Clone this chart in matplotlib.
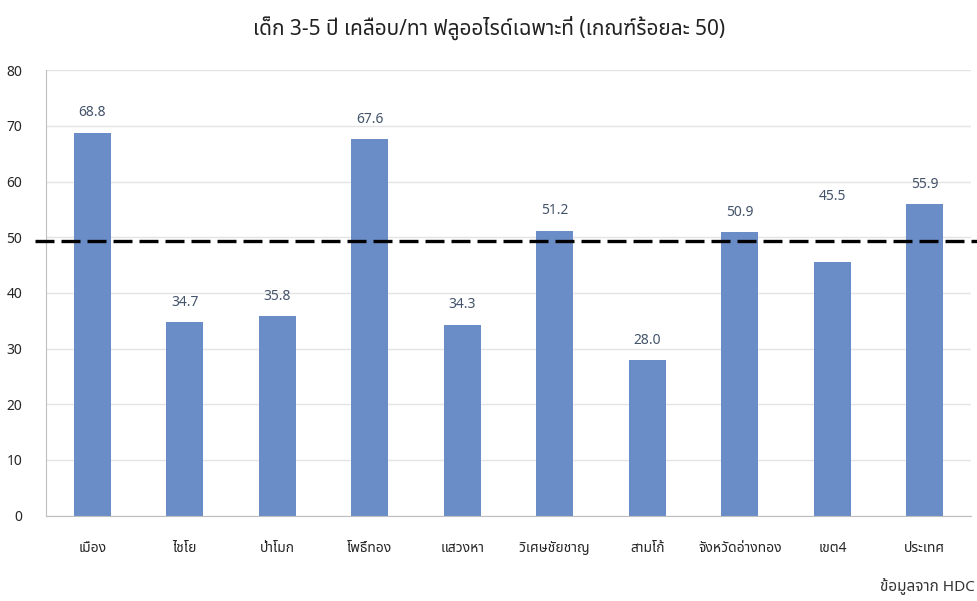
import matplotlib
matplotlib.use('Agg')
import matplotlib.pyplot as plt

plt.rcParams['font.family'] = ['Noto Sans Thai', 'DejaVu Sans']

categories = ['เมือง', 'ไชโย', 'ป่าโมก', 'โพธิ์ทอง', 'แสวงหา', 'วิเศษชัยชาญ',
              'สามโก้', 'จังหวัดอ่างทอง', 'เขต4', 'ประเทศ']
values = [68.8, 34.7, 35.8, 67.6, 34.3, 51.2, 28.0, 50.9, 45.5, 55.9]
target = 49.3
title = 'เด็ก 3-5 ปี เคลือบ/ทา ฟลูออไรด์เฉพาะที่ (เกณฑ์ร้อยละ 50)'

fig = plt.figure(figsize=(9.78, 6.01), dpi=100)
ax = fig.add_axes([0.047, 0.142, 0.946, 0.741])

x = range(len(categories))
ax.bar(x, values, width=0.4, color='#6A8DC8', zorder=2)
for i, v in zip(x, values):
    off = 2.2
    if v < target < v + 8:
        off = 10.5  # label moved above the target line
    ax.text(i, v + off, f'{v:.1f}', ha='center', va='bottom',
            fontsize=10, color='#44546A')

ax.set_ylim(0, 80)
ax.set_xlim(-0.5, len(categories) - 0.5)
ax.set_yticks(range(0, 81, 10))
ax.set_xticks(list(x))
ax.set_xticklabels(categories, fontsize=10)
ax.tick_params(axis='both', length=0, labelsize=10, colors='#262626')
ax.tick_params(axis='x', pad=18)
ax.tick_params(axis='y', pad=17)
ax.grid(axis='y', color='#E4E4E4', linewidth=1, zorder=0)
for s in ['top', 'right']:
    ax.spines[s].set_visible(False)
for s in ['left', 'bottom']:
    ax.spines[s].set_color('#BFBFBF')

# target line, runs a bit outside the plot area on both sides
ax.plot([-0.62, 10.2], [target, target], color='black', linewidth=2.4,
        linestyle=(0, (5.7, 2.1)), clip_on=False, zorder=3)

fig.text(0.5, 0.953, title, ha='center', va='center', fontsize=15,
         fontweight='semibold', color='#222222')
fig.text(0.997, 0.025, 'ข้อมูลจาก HDC', ha='right', va='center',
         fontsize=11, color='#333333')

fig.savefig('out.png')
